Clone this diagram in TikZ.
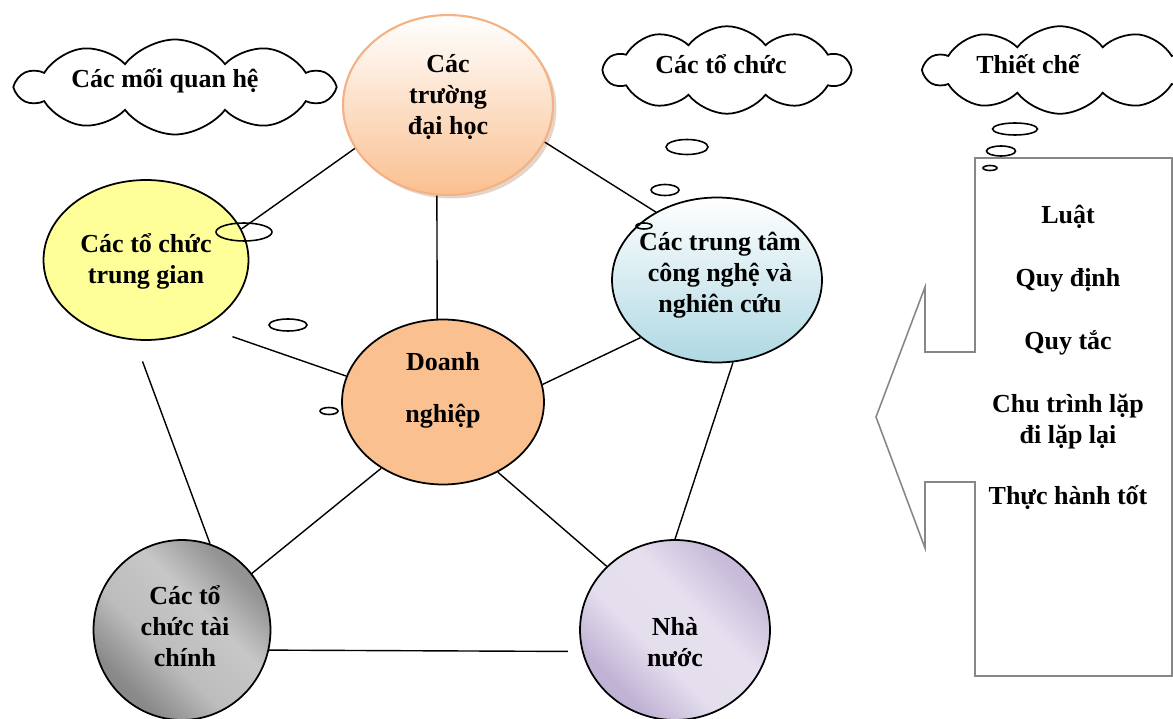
\documentclass[tikz,border=0pt]{standalone}
\usepackage{fontspec}
\setmainfont{Liberation Serif}
\usetikzlibrary{shapes.geometric,shapes.symbols,shadows}
\definecolor{peach}{HTML}{FAC090}
\definecolor{peachline}{HTML}{F4B183}
\definecolor{lyellow}{HTML}{FFFF99}
\definecolor{lblue}{HTML}{AED8E3}
\definecolor{boxgray}{HTML}{878787}
\pgfdeclareverticalshading{graysh}{100bp}{color(0bp)=(black!48); color(28bp)=(black!46); color(42bp)=(black!26); color(58bp)=(black!22); color(72bp)=(black!42); color(100bp)=(black!46)}
\pgfdeclareverticalshading{lavsh}{100bp}{color(0bp)=(rgb,255:red,186;green,172;blue,208); color(28bp)=(rgb,255:red,192;green,178;blue,212); color(42bp)=(rgb,255:red,228;green,222;blue,237); color(58bp)=(rgb,255:red,230;green,224;blue,238); color(72bp)=(rgb,255:red,200;green,188;blue,218); color(100bp)=(rgb,255:red,194;green,180;blue,214)}
\begin{document}
\begin{tikzpicture}[x=0.02cm,y=-0.02cm,
  every node/.style={font=\fontsize{14.8}{17.6}\selectfont\bfseries},
  oval/.style={ellipse, draw, line width=1pt, inner sep=0pt},
  bub/.style={ellipse, draw, line width=0.9pt, inner sep=0pt},
  link/.style={line width=0.8pt},
  txt/.style={align=center, inner sep=0pt},
  cloudbox/.style={cloud, cloud puffs=10, cloud puff arc=105, cloud ignores aspect, draw, line width=1pt, fill=white, inner sep=0pt}]
\useasboundingbox (0,0) rectangle (1173,719);
\clip (0,0) rectangle (1173,719);

% clouds
\node[cloudbox, minimum width=6.3cm, minimum height=1.9cm] (c1) at (175,87) {};
\node[cloudbox, minimum width=4.9cm, minimum height=1.75cm] (c2) at (727,70) {};
\node[cloudbox, minimum width=5.4cm, minimum height=1.75cm] (c3) at (1060,70) {};
\node[txt] (c1t) at (165,81) {Các mối quan hệ};
\node[txt] (c2t) at (721,64) {Các tổ chức};
\node[txt] (c3t) at (1028,64) {Thiết chế};

% ellipses
\node[oval, draw=peachline, line width=1.2pt, top color=white, bottom color=peach,
  minimum width=4.2cm, minimum height=3.6cm,
  drop shadow={opacity=0.35, fill=peach!70!black, shadow xshift=2pt, shadow yshift=-2pt}] (top) at (448,105) {};
\node[oval, fill=lyellow, minimum width=4.1cm, minimum height=3.2cm] (left) at (146,260) {};
\node[oval, top color=white, bottom color=lblue, minimum width=4.2cm, minimum height=3.3cm] (right) at (717,280) {};
\node[oval, fill=peach, minimum width=4.04cm, minimum height=3.3cm] (center) at (443,402) {};
\node[oval, shading=graysh, shading angle=-45, minimum width=3.54cm, minimum height=3.6cm] (botl) at (182,630) {};
\node[oval, shading=lavsh, shading angle=-45, minimum width=3.8cm, minimum height=3.6cm] (botr) at (675,630) {};

% texts in ellipses
\node[txt] (toptxt) at (448,97) {Các\\trường\\đại học};
\node[txt] (lefttxt) at (146,261) {Các tổ chức\\trung gian};
\node[txt] (righttxt) at (720,275) {Các trung tâm\\công nghệ và\\nghiên cứu};
\node[txt] (centertxt) at (443,390) {Doanh\\[12pt]nghiệp};
\node[txt] (botltxt) at (185,626) {Các tổ\\chức tài\\chính};
\node[txt] (botrtxt) at (675,642) {Nhà\\nước};

% connectors
\draw[link] (top.205) -- (left.18);
\draw[link] (top.339) -- (right.132);
\draw[link] (top.263) -- (center.94);
\draw[link, shorten <=0.6cm] (left.311) -- (center.165);
\draw[link] (right.217) -- (center.10);
\draw[link, shorten <=0.45cm] (left.262) -- (botl.72);
\draw[link] (center.227) -- (botl.39);
\draw[link] (center.308) -- (botr.137);
\draw[link] (right.281) -- (botr.90);
\draw[link, shorten >=0.28cm] (botl.347) -- (botr.193);

% thought bubbles
\node[bub, minimum width=1.12cm, minimum height=0.36cm] (b1) at (244,232) {};
\node[bub, minimum width=0.76cm, minimum height=0.24cm] (b2) at (288,325) {};
\node[bub, minimum width=0.36cm, minimum height=0.14cm] (b3) at (329,411) {};
\node[bub, minimum width=0.84cm, minimum height=0.30cm] (b4) at (687,147) {};
\node[bub, minimum width=0.56cm, minimum height=0.22cm] (b5) at (665,190) {};
\node[bub, minimum width=0.32cm, minimum height=0.12cm] (b6) at (644,226) {};
\node[bub, minimum width=0.90cm, minimum height=0.24cm] (b7) at (1015,129) {};
\node[bub, minimum width=0.58cm, minimum height=0.20cm] (b8) at (1001,151) {};

% callout
\draw[boxgray, line width=0.9pt, fill=white] (975,158) -- (1172,158) -- (1172,676) -- (975,676) -- (975,482) -- (925,482) -- (925,548) -- (876,417) -- (925,287) -- (925,352) -- (975,352) -- cycle;
\node[bub, minimum width=0.28cm, minimum height=0.10cm] (b9) at (990,168) {};

\node[txt] (l1) at (1068,217) {Luật};
\node[txt] (l2) at (1068,280) {Quy định};
\node[txt] (l3) at (1068,343) {Quy tắc};
\node[txt] (l4) at (1068,422) {Chu trình lặp\\đi lặp lại};
\node[txt] (l5) at (1068,498) {Thực hành tốt};
\end{tikzpicture}
\end{document}
